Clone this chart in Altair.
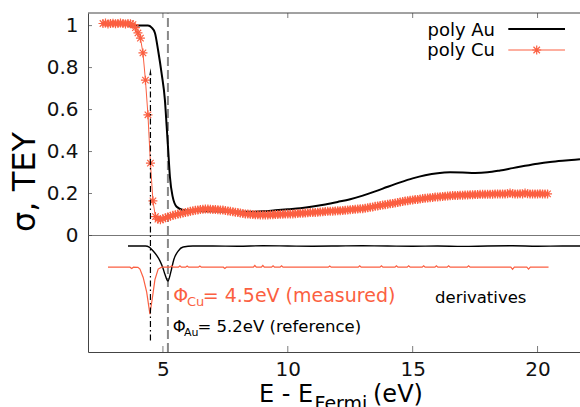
import altair as alt
import numpy as np
import pandas as pd

# ---------------------------------------------------------------- data
RED = "#fb5f41"
FONT = "DejaVu Sans"

X_MIN, X_MAX = 2.0, 21.7
Y_MIN, Y_MAX = -0.555, 1.06

x_ticks = [5, 10, 15, 20]
y_ticks = [0, 0.2, 0.4, 0.6, 0.8, 1.0]

# work functions (eV)
phi_cu = 4.5
phi_au = 5.2

# poly Au cross-section (black curve)
au_energy = [3.6, 4.0, 4.4, 4.55, 4.68, 4.81, 4.95, 5.08, 5.15, 5.21, 5.28, 5.39,
             5.55, 5.8, 6.2, 7.0, 8.0, 8.5, 9.0, 9.5, 10.0, 10.5, 11.0, 11.5,
             12.0, 12.5, 13.0, 13.5, 14.0, 14.5, 15.0, 15.5, 16.0, 16.5, 17.0,
             17.5, 18.0, 18.5, 19.0, 19.5, 20.0, 20.5, 21.0, 21.5, 21.7]
au_sigma = [1.0, 1.0, 1.0, 0.99, 0.965, 0.88, 0.77, 0.645, 0.52, 0.41, 0.28, 0.185,
            0.137, 0.122, 0.118, 0.115, 0.113, 0.113, 0.115, 0.12, 0.125, 0.13,
            0.138, 0.148, 0.16, 0.173, 0.19, 0.21, 0.232, 0.253, 0.272, 0.287,
            0.297, 0.301, 0.3, 0.298, 0.301, 0.31, 0.321, 0.332, 0.342, 0.35,
            0.356, 0.361, 0.363]

# poly Cu total electron yield, measured on a 0.1 eV grid from 2.6 eV
cu_start, cu_step = 2.6, 0.1
cu_tey = [
    1.010, 1.012, 1.008, 1.010,
    1.011, 1.009, 1.010, 1.012, 1.010, 1.008, 1.010, 1.009, 1.005, 0.990,
    0.965, 0.940, 0.870, 0.740, 0.575, 0.345, 0.165, 0.090, 0.078, 0.075,
    0.080, 0.084, 0.088, 0.092, 0.096, 0.099, 0.102, 0.104, 0.107, 0.110,
    0.112, 0.115, 0.118, 0.120, 0.122, 0.124, 0.125, 0.126, 0.126, 0.125,
    0.124, 0.124, 0.123, 0.122, 0.121, 0.119, 0.117, 0.115, 0.113, 0.111,
    0.109, 0.107, 0.105, 0.103, 0.102, 0.101, 0.100, 0.099, 0.099, 0.098,
    0.098, 0.098, 0.098, 0.099, 0.099, 0.100, 0.100, 0.101, 0.101, 0.102,
    0.102, 0.103, 0.103, 0.104, 0.105, 0.106, 0.106, 0.107, 0.108, 0.109,
    0.110, 0.110, 0.111, 0.112, 0.113, 0.114, 0.115, 0.116, 0.116, 0.117,
    0.118, 0.118, 0.119, 0.120, 0.122, 0.123, 0.124, 0.125, 0.126, 0.127,
    0.128, 0.130, 0.132, 0.134, 0.136, 0.139, 0.141, 0.143, 0.145, 0.147,
    0.149, 0.151, 0.153, 0.155, 0.157, 0.160, 0.162, 0.164, 0.166, 0.168,
    0.169, 0.171, 0.172, 0.174, 0.176, 0.177, 0.179, 0.180, 0.181, 0.183,
    0.184, 0.185, 0.186, 0.187, 0.188, 0.189, 0.190, 0.191, 0.191, 0.192,
    0.192, 0.193, 0.193, 0.194, 0.194, 0.195, 0.195, 0.196, 0.196, 0.196,
    0.197, 0.197, 0.197, 0.198, 0.198, 0.198, 0.198, 0.198, 0.199, 0.203,
    0.199, 0.198, 0.198, 0.199, 0.198, 0.203, 0.199, 0.198, 0.198, 0.198,
    0.198, 0.199, 0.198, 0.198, 0.198,
]
cu_energy = np.round(cu_start + cu_step * np.arange(len(cu_tey)), 2)

# derivatives, scaled and shifted below zero
au_deriv_energy = [3.6, 4.0, 4.3, 4.45, 4.61, 4.75, 4.88, 5.0, 5.08, 5.2, 5.31,
                   5.44, 5.61, 5.81, 6.2, 7.0, 8.0, 9.0, 10.0, 11.0, 12.0, 13.0,
                   14.0, 15.0, 16.0, 17.0, 18.0, 19.0, 20.0, 21.0, 21.7]
au_deriv = [-0.05, -0.05, -0.05, -0.055, -0.074, -0.095, -0.121, -0.155, -0.185,
            -0.217, -0.177, -0.113, -0.074, -0.055, -0.05, -0.05, -0.051, -0.049,
            -0.05, -0.051, -0.05, -0.049, -0.05, -0.051, -0.05, -0.052, -0.05,
            -0.049, -0.051, -0.05, -0.05]

cu_deriv_energy = [2.8, 3.68, 3.75, 3.82, 4.0, 4.08, 4.21, 4.35, 4.48, 4.59, 4.68,
                   4.81, 4.95, 5.29, 5.35, 5.41, 5.62, 5.68, 5.74, 5.91, 5.97, 6.03,
                   6.42, 6.48, 6.54, 7.42, 7.48, 7.54, 8.62, 8.68, 8.74, 8.94, 9.0,
                   9.06, 9.35, 9.41, 9.47, 9.69, 9.75, 9.81, 11.62, 11.68, 11.74,
                   12.82, 12.88, 12.94, 13.69, 13.75, 13.81, 14.29, 14.35, 14.41,
                   14.78, 14.84, 14.9, 15.38, 15.44, 15.5, 15.89, 15.95, 16.01,
                   16.38, 16.44, 16.5, 17.18, 17.24, 17.3, 18.93, 19.0, 19.07,
                   19.57, 19.64, 19.71, 20.44]
cu_deriv = [-0.151, -0.151, -0.157, -0.151, -0.152, -0.160, -0.200, -0.270, -0.375,
            -0.287, -0.210, -0.160, -0.151, -0.151, -0.144, -0.151, -0.151, -0.144,
            -0.151, -0.151, -0.145, -0.151, -0.151, -0.145, -0.151, -0.151, -0.157,
            -0.151, -0.151, -0.143, -0.151, -0.151, -0.143, -0.151, -0.151, -0.144,
            -0.151, -0.151, -0.144, -0.151, -0.151, -0.145, -0.151, -0.151, -0.144,
            -0.151, -0.151, -0.144, -0.151, -0.151, -0.144, -0.151, -0.151, -0.144,
            -0.151, -0.151, -0.144, -0.151, -0.151, -0.144, -0.151, -0.151, -0.144,
            -0.151, -0.151, -0.144, -0.151, -0.151, -0.161, -0.151, -0.151, -0.160,
            -0.151, -0.151]

# ---------------------------------------------------------------- tables
au_df = pd.DataFrame({"E": au_energy, "v": au_sigma})
cu_df = pd.DataFrame({"E": cu_energy, "v": cu_tey})
au_d_df = pd.DataFrame({"E": au_deriv_energy, "v": au_deriv})
cu_d_df = pd.DataFrame({"E": cu_deriv_energy, "v": cu_deriv})
tick_df = pd.DataFrame({"E": x_ticks})
ytick_df = pd.DataFrame({"v": y_ticks})
one = pd.DataFrame({"k": [0]})

FRAME = "#444444"
x_scale = alt.Scale(domain=[X_MIN, X_MAX], nice=False, zero=False)
y_scale = alt.Scale(domain=[Y_MIN, Y_MAX], nice=False, zero=False)

X = alt.X("E:Q", scale=x_scale, title=None)
Y = alt.Y("v:Q", scale=y_scale, title=None)

# asterisk marker (gnuplot point type 3)
STAR = "M-1,0L1,0M0,-1L0,1M-0.72,-0.72L0.72,0.72M-0.72,0.72L0.72,-0.72"

# ---------------------------------------------------------------- layers
# invisible layer that carries the two axes
axes = alt.Chart(au_df).mark_line(opacity=0).encode(
    x=alt.X("E:Q", scale=x_scale, title=None,
            axis=alt.Axis(values=x_ticks, grid=False, ticks=False,
                          domainColor=FRAME, domainWidth=1, labelFont=FONT,
                          labelFontSize=20, labelColor="#111", labelPadding=7)),
    y=alt.Y("v:Q", scale=y_scale, title=None,
            axis=alt.Axis(values=y_ticks, format="~g", grid=False,
                          ticks=False, domainColor=FRAME, domainWidth=1,
                          labelFont=FONT, labelFontSize=20, labelColor="#111",
                          labelPadding=10)),
)

zero_line = alt.Chart(one).mark_rule(color="#777777", strokeWidth=1).encode(
    x=alt.datum(X_MIN), x2=alt.datum(X_MAX), y=alt.datum(0))

top_line = alt.Chart(one).mark_rule(color=FRAME, strokeWidth=1).encode(
    x=alt.datum(X_MIN), x2=alt.datum(X_MAX), y=alt.datum(Y_MAX))

# inward ticks on bottom, top and left edges
bottom_ticks = alt.Chart(tick_df).mark_tick(
    orient="vertical", size=6, thickness=1, color=FRAME, yOffset=-3).encode(
    x=X, y=alt.datum(Y_MIN))
top_ticks = alt.Chart(tick_df).mark_tick(
    orient="vertical", size=5, thickness=1, color=FRAME, yOffset=2.5).encode(
    x=X, y=alt.datum(Y_MAX))
left_ticks = alt.Chart(ytick_df).mark_tick(
    orient="horizontal", size=4, thickness=1, color=FRAME, xOffset=2).encode(
    y=Y, x=alt.datum(X_MIN))

au_dashed = alt.Chart(one).mark_rule(
    color="#888888", strokeWidth=2, strokeDash=[9, 4]).encode(
    x=alt.datum(phi_au), y=alt.datum(Y_MIN), y2=alt.datum(Y_MAX))

au_line = alt.Chart(au_df).mark_line(
    color="black", strokeWidth=2, interpolate="monotone").encode(x=X, y=Y)

cu_line = alt.Chart(cu_df).mark_line(color=RED, strokeWidth=1).encode(x=X, y=Y)
cu_pts = alt.Chart(cu_df).mark_point(
    shape=STAR, filled=False, size=81, color=RED, strokeWidth=1.2,
    opacity=1).encode(x=X, y=Y)

au_d_line = alt.Chart(au_d_df).mark_line(
    color="black", strokeWidth=1.4, interpolate="monotone").encode(x=X, y=Y)
cu_d_line = alt.Chart(cu_d_df).mark_line(
    color=RED, strokeWidth=1.2).encode(x=X, y=Y)

cu_arrow = alt.Chart(one).mark_rule(
    color="black", strokeWidth=1.2, strokeDash=[6, 3, 1.5, 3]).encode(
    x=alt.datum(phi_cu), y=alt.datum(-0.5), y2=alt.datum(0.77))
cu_head = alt.Chart(one).mark_point(
    shape="wedge", filled=True, size=70, color="black", opacity=1).encode(
    x=alt.datum(phi_cu), y=alt.datum(0.775))


def label(text, x, y, size, color="black", align="left", angle=0,
          baseline="alphabetic"):
    return alt.Chart(one).mark_text(
        text=text, font=FONT, fontSize=size, color=color, align=align,
        baseline=baseline, angle=angle).encode(x=alt.value(x), y=alt.value(y))


texts = [
    # Cu work function
    label("\u03a6", 85.3, 288.7, 19, RED),
    label("Cu", 99.0, 292.5, 13, RED),
    label("= 4.5eV (measured)", 114.7, 288.7, 19, RED),
    # Au work function
    label("\u03a6", 84.7, 319.3, 16.5),
    label("Au", 96.0, 322.5, 11),
    label("= 5.2eV (reference)", 109.5, 319.3, 16.5),
    label("derivatives", 347, 290.3, 16.5),
    # legend
    label("poly Au", 407, 23, 18, align="right"),
    label("poly Cu", 407, 42.5, 18, align="right"),
    # axis titles
    label("\u03c3, TEY", -63, 169, 32, align="center", angle=270,
          baseline="middle"),
    label("E - E", 171, 388.7, 24),
    label("Fermi", 226.5, 396.5, 19),
    label("(eV)", 285, 388.7, 24),
]

legend_au = alt.Chart(one).mark_rule(color="black", strokeWidth=2).encode(
    x=alt.value(420.3), x2=alt.value(477), y=alt.value(16))
legend_cu = alt.Chart(one).mark_rule(color=RED, strokeWidth=1).encode(
    x=alt.value(420.3), x2=alt.value(477), y=alt.value(37))
legend_star = alt.Chart(one).mark_point(
    shape=STAR, filled=False, size=81, color=RED, strokeWidth=1.2,
    opacity=1).encode(x=alt.value(448.7), y=alt.value(37))

chart = alt.layer(
    axes, zero_line, top_line, bottom_ticks, top_ticks, left_ticks,
    au_dashed, au_line, cu_line, cu_pts, au_d_line, cu_d_line,
    cu_arrow, cu_head, legend_au, legend_cu, legend_star, *texts,
).properties(
    width=492, height=339,
    autosize=alt.AutoSizeParams(type="none"),
    padding={"left": 88, "top": 13, "right": 0, "bottom": 55},
).configure_view(stroke=None)

chart.save("out.html", embed_options={"renderer": "svg", "actions": False})
